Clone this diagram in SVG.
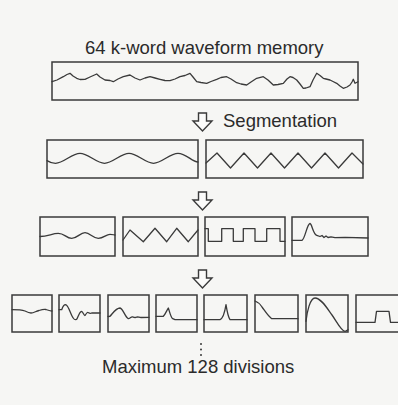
<svg xmlns="http://www.w3.org/2000/svg" width="398" height="405" viewBox="0 0 398 405">
<style>
.bg{fill:#f6f6f4}
.box{fill:none;stroke:#3a3a3a;stroke-width:1.5}
.wave{fill:none;stroke:#3a3a3a;stroke-width:1.3;stroke-linejoin:round;stroke-linecap:round}
.arrow{fill:#fbfbfa;stroke:#3a3a3a;stroke-width:1.4;stroke-linejoin:miter}
.lbl{font-family:"Liberation Sans",Arial,sans-serif;font-size:18.5px;fill:#2b2b2b}
.dot{fill:#3a3a3a}
</style>
<defs>
<path id="harrow" d="M-4,0 L4,0 L4,8 L9.5,8 L0,18 L-9.5,8 L-4,8 Z"/>
</defs>
<rect class="bg" x="0" y="0" width="398" height="405"/>

<g id="title"><text class="lbl" x="85" y="54">64 k-word waveform memory</text></g>

<g id="memory">
<rect class="box" x="52" y="62" width="306" height="38"/>
<path class="wave" d="M52,81.7 L57,80 L63.3,76.7 L67,74.5 L70,73.3 L73,76 L76.7,78.3 L80,79.5 L85,79.3 L90,77 L96.7,74 L100,77 L105,80 L110,80.5 L113.3,81.7 L118,79 L123.3,76.7 L130,75 L135,78 L140,80 L145,78 L150,76.7 L155,78 L160,79.3 L165,80.5 L170,80.7 L175,79 L180,76.7 L185,75.5 L190,73.3 L193,77 L196.7,81.7 L201,82.5 L206.7,83.3 L211,81.5 L216.7,79.3 L221,77.5 L226.7,76.7 L231,79 L236.7,82.7 L241,84 L246.7,85 L251,82 L256.7,78.3 L263.3,76.7 L268,80 L273.3,85 L278,84.5 L283.3,83.3 L287,79 L290,76.7 L293,77.5 L296.7,80 L300,84 L303.3,88.3 L306,88 L310,86.7 L313,80 L316.7,73.3 L320,75.5 L323.3,78.3 L326,79 L330,80 L333,81.5 L336.7,83.3 L340,86 L343.3,88.3 L347,87 L350,85 L352,82 L353.3,79.3 L355,83.3 L358,81.7"/>
</g>

<g id="segmentation-label"><text class="lbl" x="223" y="127">Segmentation</text></g>

<g id="seg-a">
<rect class="box" x="47" y="140" width="151" height="38"/>
<path class="wave" d="M47,160.6 C50,162.5 52,163.3 55.5,163.3 C63.7,163.3 71.8,153.3 80,153.3 S96.3,163.3 104.5,163.3 S120.8,153.3 129,153.3 S145.3,163.3 153.5,163.3 S169.8,153.3 178,153.3 S192,162 198,162"/>
</g>
<g id="seg-b">
<rect class="box" x="206" y="140" width="157" height="38"/>
<path class="wave" d="M206,163 L217,153 L230.5,168 L244,153 L257.5,168 L271,153 L284.5,168 L298,153 L311.5,168 L325,153 L338.5,168 L352,153 L363,164"/>
</g>

<g id="row3-1">
<rect class="box" x="40" y="217" width="75" height="39"/>
<path class="wave" d="M40,236.5 C48,236.5 52,233.3 58.3,233.3 S66,238.3 71.7,238.3 S80,232.7 85,232.7 S93,238.3 98.3,238.3 S106,234.3 110,234.3 S113,235 115,235"/>
</g>
<g id="row3-2">
<rect class="box" x="123" y="217" width="75" height="39"/>
<path class="wave" d="M123,240 L130,230 L143.3,241.7 L155,228.3 L166.7,241.7 L176.7,228.3 L188.3,241.7 L198,230"/>
</g>
<g id="row3-3">
<rect class="box" x="205" y="217" width="80" height="39"/>
<path class="wave" d="M205,228.7 L208.3,228.7 L208.3,241.3 L221.7,241.3 L221.7,228.7 L233.3,228.7 L233.3,241.3 L243.3,241.3 L243.3,228.7 L255,228.7 L255,241.3 L266.7,241.3 L266.7,228.7 L280,228.7 L280,241.3 L285,241.3"/>
</g>
<g id="row3-4">
<rect class="box" x="292" y="217" width="76" height="39"/>
<path class="wave" d="M292,240.3 L302,240.3 C305,239 307,224 310,223.5 C312,224 313,234 316.7,235.3 L320,236.5 L322,235.5 L324,237.5 L326,236 L328,237.5 L331,236.8 L335,237.6 L345,237.4 L368,238"/>
</g>

<g id="row4-1">
<rect class="box" x="12" y="295" width="40" height="37"/>
<path class="wave" d="M12,309.7 C18,309.7 22,310 25,311 C28,312.5 29,313 31,313 C34,313 36,311 39,310.5 C42,309.5 44,309 46,309.5 C49,310.5 50,311 52,311"/>
</g>
<g id="row4-2">
<rect class="box" x="59" y="295" width="41" height="37"/>
<path class="wave" d="M59,309.7 L61.7,309.7 C63,306 64,304.7 65.5,304.7 C68,305 70,312 72,316 C74,320 75,320 76.5,319.5 C78,318 79,312 81.5,311.3 C83,311.5 84,316 85,315.5 C86,314 87,312 88,312.5 C89,313 90,314 91.7,313 L100,313"/>
</g>
<g id="row4-3">
<rect class="box" x="108" y="295" width="41" height="37"/>
<path class="wave" d="M108,316.5 L110,316.3 C113,313 116,308 120,308 C123,308.5 125,317 128.3,318.7 C130,318.5 131,316.5 132.5,316.8 C134,317.5 135,318 136.5,317.2 C138,316.5 139,317.5 141,317.5 L149,317.3"/>
</g>
<g id="row4-4">
<rect class="box" x="156" y="295" width="41" height="37"/>
<path class="wave" d="M156,316.3 L163.3,316.3 C165.5,314 167,310 168.3,308 C169.5,311 170.5,317 172.7,318.7 L175,319.7 L197,319.7"/>
</g>
<g id="row4-5">
<rect class="box" x="204" y="295" width="43" height="37"/>
<path class="wave" d="M204,319.7 L220,319.7 C223,318.5 225,311 226,304.7 C227,311 228,317 230,319.7 L247,319.7"/>
</g>
<g id="row4-6">
<rect class="box" x="255" y="295" width="43" height="37"/>
<path class="wave" d="M255,301 C258,302 260,304 262,307 C265,311 268,316 271.7,318.7 L298,318.7"/>
</g>
<g id="row4-7">
<rect class="box" x="306" y="295" width="42" height="37"/>
<path class="wave" d="M306,321.3 C307,312 310,298 315,298 C321,298 327,308 332,315 C337,322 341,331 345,331.3 C346.5,331.3 347.5,330 348,329.7"/>
</g>
<g id="row4-8">
<rect class="box" x="356" y="295" width="44" height="37"/>
<path class="wave" d="M356,322.3 L375,322.3 L376.5,311.3 L389,311.3 L390.5,322.3 L398,322.3"/>
</g>

<g id="connectors">
<use href="#harrow" class="arrow" x="202.5" y="113"/>
<use href="#harrow" class="arrow" x="202.5" y="192"/>
<use href="#harrow" class="arrow" x="202.5" y="270"/>
<circle class="dot" cx="201" cy="344" r="1"/>
<circle class="dot" cx="201" cy="349.5" r="1"/>
<circle class="dot" cx="201" cy="355" r="1"/>
</g>

<g id="footer"><text class="lbl" x="102" y="373">Maximum 128 divisions</text></g>
</svg>
